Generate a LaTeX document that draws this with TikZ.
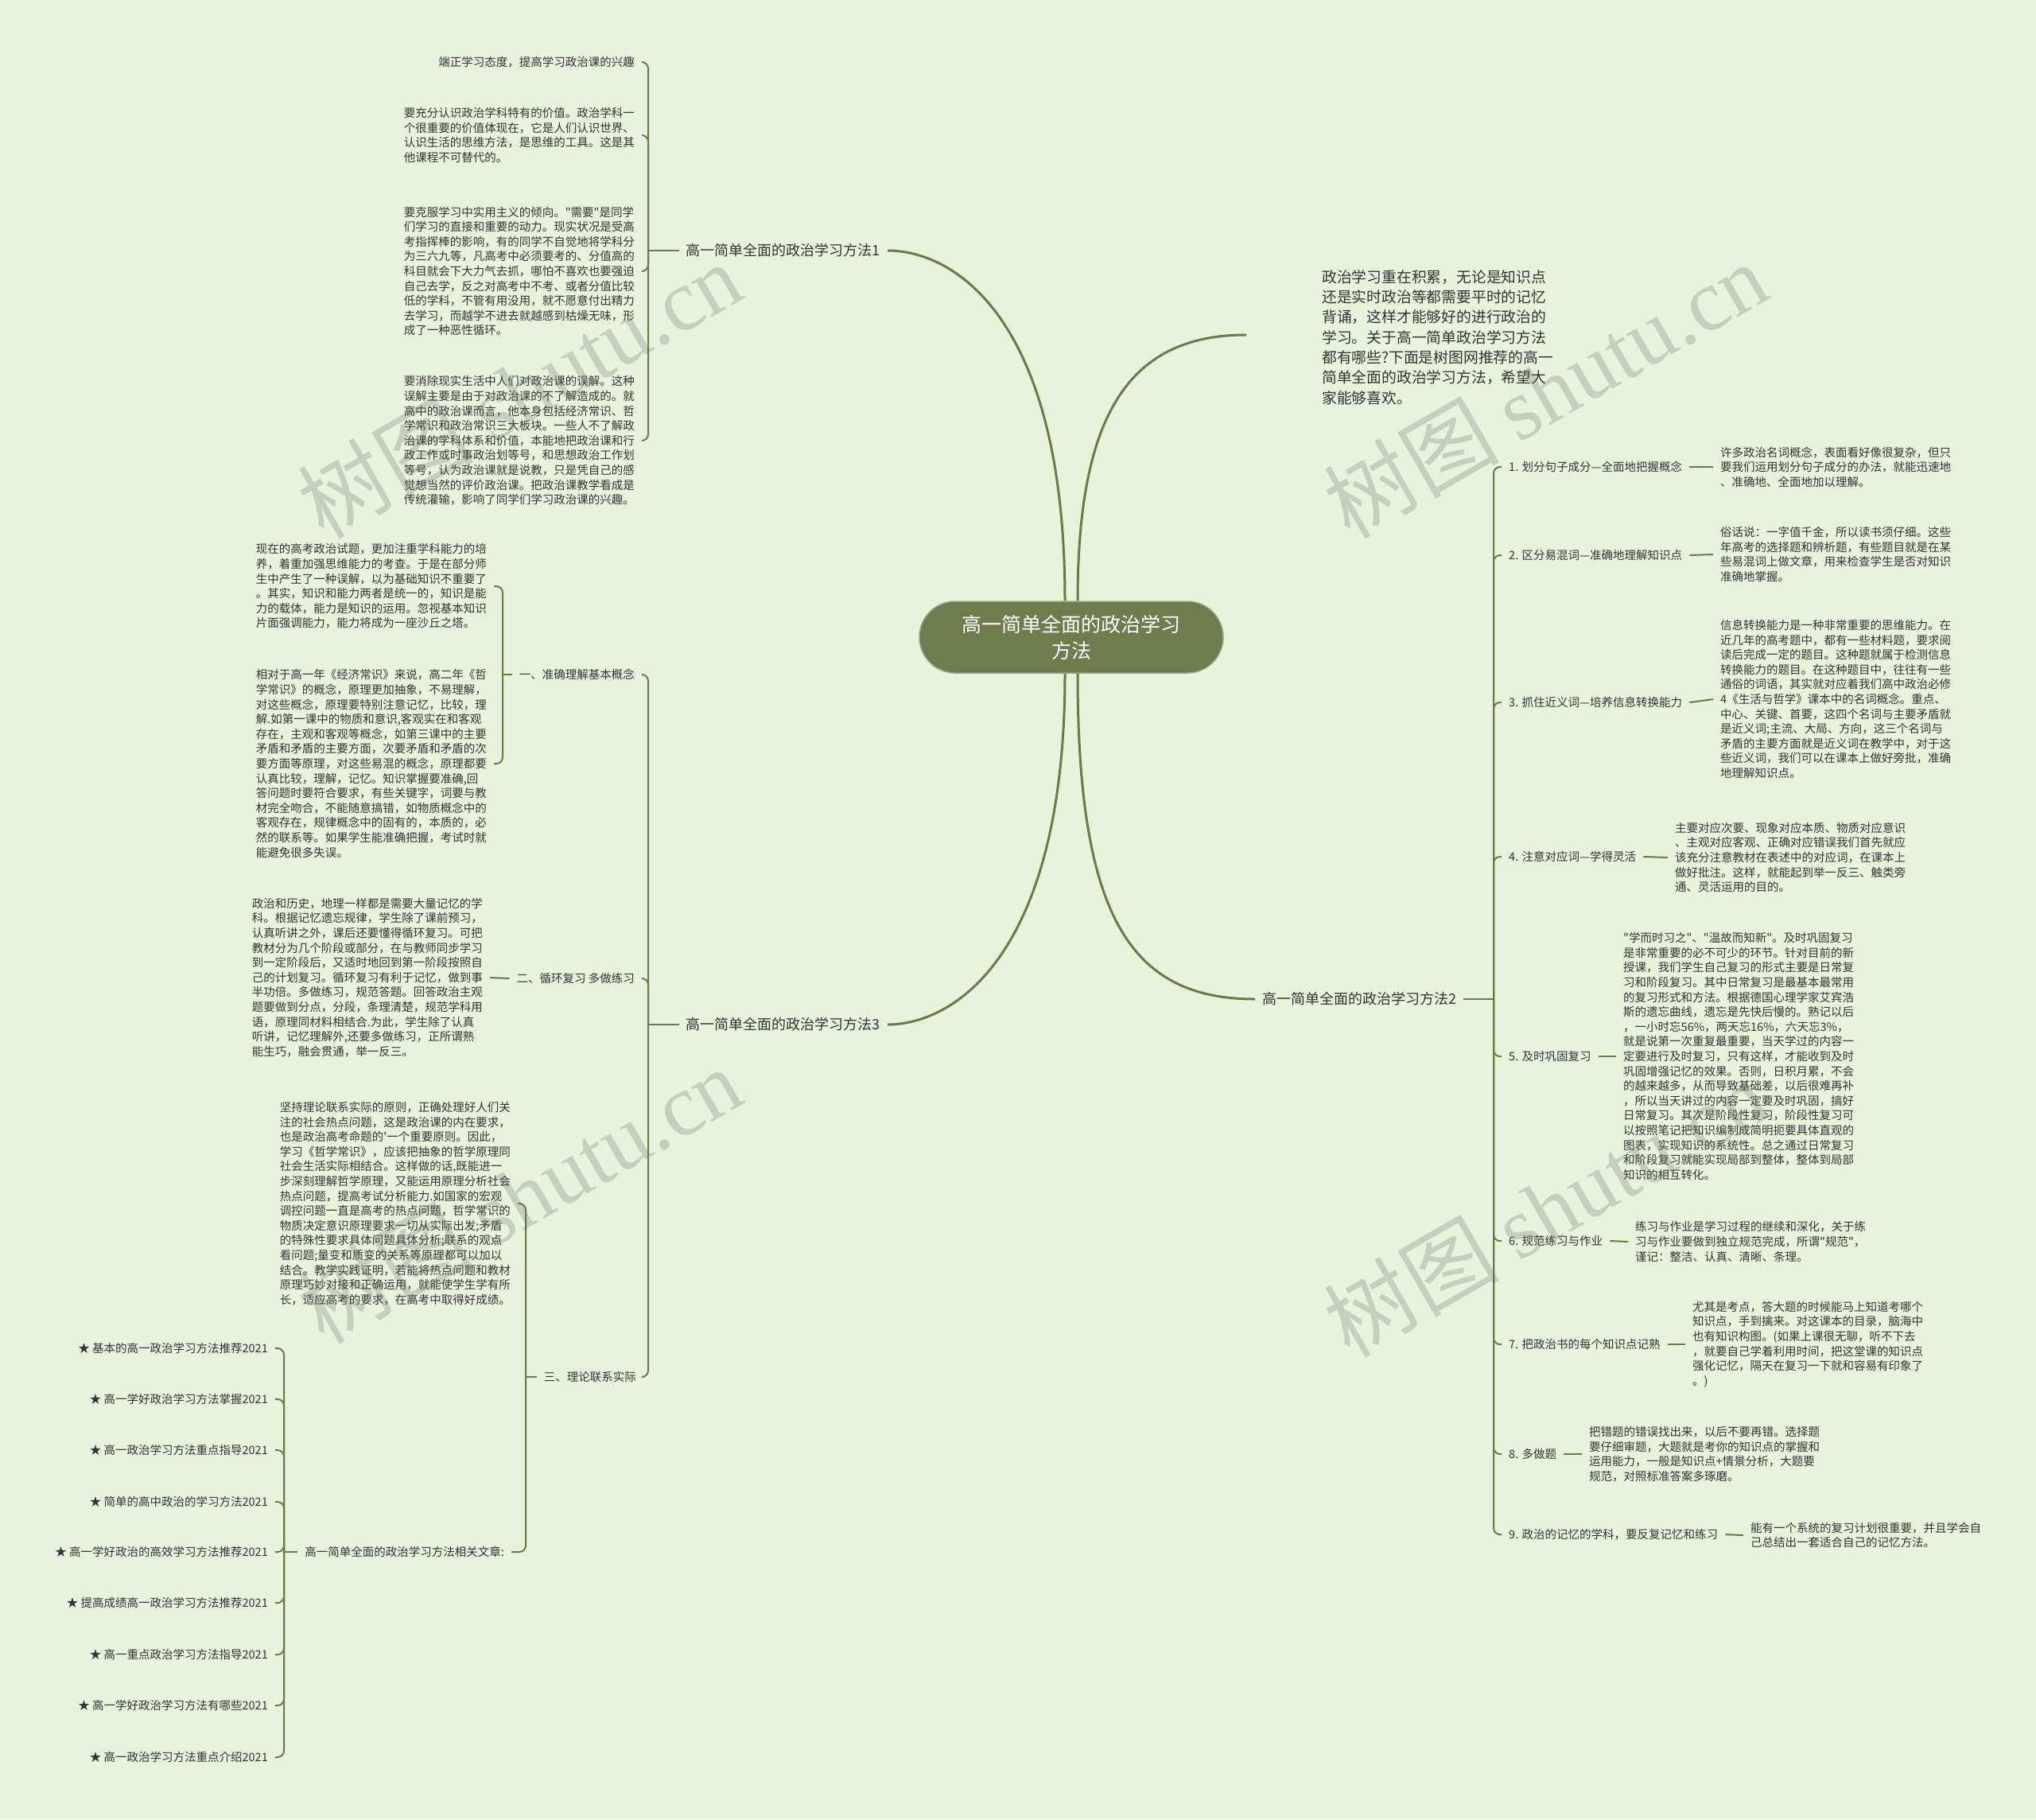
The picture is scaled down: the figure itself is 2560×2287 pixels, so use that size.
\documentclass[tikz,border=0pt]{standalone}
\usepackage{fontspec}
\setmainfont{Noto Sans CJK SC}[Ligatures=TeXOff]
\newfontfamily\wmlatin{Liberation Serif}
\usetikzlibrary{calc}
\definecolor{bgc}{HTML}{E7F3DB}
\definecolor{linec}{HTML}{6C7A47}
\definecolor{rootc}{HTML}{6F7C4E}
\definecolor{txtc}{HTML}{333333}
\begin{document}
\begin{tikzpicture}[x=1pt,y=-1pt,
  para/.style={font=\fontsize{14.5}{18.6}\selectfont, text=txtc, align=left, inner xsep=9pt, inner ysep=2pt},
  lab/.style={font=\fontsize{14.5}{18.6}\selectfont, text=txtc, inner xsep=9pt, inner ysep=2pt},
  blab/.style={font=\fontsize{18}{22}\selectfont, text=txtc, inner xsep=9pt, inner ysep=3pt},
  intro/.style={font=\fontsize{18.8}{25.3}\selectfont, text=txtc, align=left, inner xsep=0pt, inner ysep=2pt},
  conn/.style={draw=linec, line width=2pt},
  bconn/.style={conn, rounded corners=8pt},
  mconn/.style={draw=linec, line width=3pt},
  wm/.style={font=\fontsize{110}{110}\selectfont, text=black!60, opacity=0.25, rotate=30}
]
\useasboundingbox (0,0) rectangle (2560,2287);
\fill[bgc] (0,0) rectangle (2560,2287);

% root
\node[fill=rootc, draw=rootc!70!white, line width=1.5pt, rounded corners=45pt, minimum width=382pt, minimum height=90pt, text=white, align=center, font=\fontsize{25}{33}\selectfont] (root) at (1347,801) {高一简单全面的政治学习\\方法};

% ---------- branch 1 ----------
\node[blab, anchor=east] (b1) at (1116,315) {高一简单全面的政治学习方法1};
\coordinate (j1) at (815,315);
\node[lab, anchor=east] (b1c1) at (807,78) {端正学习态度，提高学习政治课的兴趣};
\node[para, anchor=east] (b1c2) at (807,170) {要充分认识政治学科特有的价值。政治学科一\\个很重要的价值体现在，它是人们认识世界、\\认识生活的思维方法，是思维的工具。这是其\\他课程不可替代的。};
\node[para, anchor=east] (b1c3) at (807,341) {要克服学习中实用主义的倾向。"需要"是同学\\们学习的直接和重要的动力。现实状况是受高\\考指挥棒的影响，有的同学不自觉地将学科分\\为三六九等，凡高考中必须要考的、分值高的\\科目就会下大力气去抓，哪怕不喜欢也要强迫\\自己去学，反之对高考中不考、或者分值比较\\低的学科，不管有用没用，就不愿意付出精力\\去学习，而越学不进去就越感到枯燥无味，形\\成了一种恶性循环。};
\node[para, anchor=east] (b1c4) at (807,554) {要消除现实生活中人们对政治课的误解。这种\\误解主要是由于对政治课的不了解造成的。就\\高中的政治课而言，他本身包括经济常识、哲\\学常识和政治常识三大板块。一些人不了解政\\治课的学科体系和价值，本能地把政治课和行\\政工作或时事政治划等号，和思想政治工作划\\等号，认为政治课就是说教，只是凭自己的感\\觉想当然的评价政治课。把政治课教学看成是\\传统灌输，影响了同学们学习政治课的兴趣。};
\draw[conn] (b1.west) -- (j1);
\foreach \c in {b1c1,b1c2,b1c3,b1c4} \draw[bconn] (j1) |- (\c.east);

% ---------- branch 3 ----------
\node[blab, anchor=east] (b3) at (1116,1288) {高一简单全面的政治学习方法3};
\coordinate (j3) at (815,1288);
\node[lab, anchor=east] (b3a) at (807,848) {一、准确理解基本概念};
\node[lab, anchor=east] (b3b) at (807,1230) {二、循环复习 多做练习};
\node[lab, anchor=east] (b3c) at (809,1731) {三、理论联系实际};
\draw[conn] (b3.west) -- (j3);
\foreach \c in {b3a,b3b,b3c} \draw[bconn] (j3) |- (\c.east);

% 一
\coordinate (j3a) at (632,848);
\node[para, anchor=east] (b3a1) at (621,737) {现在的高考政治试题，更加注重学科能力的培\\养，着重加强思维能力的考查。于是在部分师\\生中产生了一种误解，以为基础知识不重要了\\。其实，知识和能力两者是统一的，知识是能\\力的载体，能力是知识的运用。忽视基本知识\\片面强调能力，能力将成为一座沙丘之塔。};
\node[para, anchor=east] (b3a2) at (621,960) {相对于高一年《经济常识》来说，高二年《哲\\学常识》的概念，原理更加抽象，不易理解，\\对这些概念，原理要特别注意记忆，比较，理\\解.如第一课中的物质和意识,客观实在和客观\\存在，主观和客观等概念，如第三课中的主要\\矛盾和矛盾的主要方面，次要矛盾和矛盾的次\\要方面等原理，对这些易混的概念，原理都要\\认真比较，理解，记忆。知识掌握要准确,回\\答问题时要符合要求，有些关键字，词要与教\\材完全吻合，不能随意搞错，如物质概念中的\\客观存在，规律概念中的固有的，本质的，必\\然的联系等。如果学生能准确把握，考试时就\\能避免很多失误。};
\draw[conn] (b3a.west) -- (j3a);
\foreach \c in {b3a1,b3a2} \draw[bconn] (j3a) |- (\c.east);

% 二
\node[para, anchor=east] (b3b1) at (616,1229) {政治和历史，地理一样都是需要大量记忆的学\\科。根据记忆遗忘规律，学生除了课前预习，\\认真听讲之外，课后还要懂得循环复习。可把\\教材分为几个阶段或部分，在与教师同步学习\\到一定阶段后，又适时地回到第一阶段按照自\\己的计划复习。循环复习有利于记忆，做到事\\半功倍。多做练习，规范答题。回答政治主观\\题要做到分点，分段，条理清楚，规范学科用\\语，原理同材料相结合.为此，学生除了认真\\听讲，记忆理解外,还要多做练习，正所谓熟\\能生巧，融会贯通，举一反三。};
\draw[conn] (b3b1.east) -- (b3b.west);

% 三
\coordinate (j3c) at (661,1731);
\node[para, anchor=east] (b3c1) at (651,1513) {坚持理论联系实际的原则，正确处理好人们关\\注的社会热点问题，这是政治课的内在要求，\\也是政治高考命题的'一个重要原则。因此，\\学习《哲学常识》，应该把抽象的哲学原理同\\社会生活实际相结合。这样做的话,既能进一\\步深刻理解哲学原理，又能运用原理分析社会\\热点问题，提高考试分析能力.如国家的宏观\\调控问题一直是高考的热点问题，哲学常识的\\物质决定意识原理要求一切从实际出发;矛盾\\的特殊性要求具体问题具体分析;联系的观点\\看问题;量变和质变的关系等原理都可以加以\\结合。教学实践证明，若能将热点问题和教材\\原理巧妙对接和正确运用，就能使学生学有所\\长，适应高考的要求，在高考中取得好成绩。};
\node[lab, anchor=east] (b3c2) at (643,1951) {高一简单全面的政治学习方法相关文章:};
\draw[conn] (b3c.west) -- (j3c);
\foreach \c in {b3c1,b3c2} \draw[bconn] (j3c) |- (\c.east);

% related articles
\coordinate (j3d) at (357,1951);
\node[lab, anchor=east] (s1) at (346,1695) {★ 基本的高一政治学习方法推荐2021};
\node[lab, anchor=east] (s2) at (346,1759) {★ 高一学好政治学习方法掌握2021};
\node[lab, anchor=east] (s3) at (346,1823) {★ 高一政治学习方法重点指导2021};
\node[lab, anchor=east] (s4) at (346,1888) {★ 简单的高中政治的学习方法2021};
\node[lab, anchor=east] (s5) at (346,1951) {★ 高一学好政治的高效学习方法推荐2021};
\node[lab, anchor=east] (s6) at (346,2015) {★ 提高成绩高一政治学习方法推荐2021};
\node[lab, anchor=east] (s7) at (346,2080) {★ 高一重点政治学习方法指导2021};
\node[lab, anchor=east] (s8) at (346,2144) {★ 高一学好政治学习方法有哪些2021};
\node[lab, anchor=east] (s9) at (346,2209) {★ 高一政治学习方法重点介绍2021};
\draw[conn] (b3c2.west) -- (j3d);
\foreach \c in {s1,s2,s3,s4,s5,s6,s7,s8,s9} \draw[bconn] (j3d) |- (\c.east);

% ---------- intro ----------
\node[intro, anchor=west] (intro) at (1662,424) {政治学习重在积累，无论是知识点\\还是实时政治等都需要平时的记忆\\背诵，这样才能够好的进行政治的\\学习。关于高一简单政治学习方法\\都有哪些?下面是树图网推荐的高一\\简单全面的政治学习方法，希望大\\家能够喜欢。};

% ---------- branch 2 ----------
\node[blab, anchor=west] (b2) at (1578,1256) {高一简单全面的政治学习方法2};
\coordinate (j2) at (1878,1256);
\node[lab, anchor=west] (r1) at (1888,587) {1. 划分句子成分—全面地把握概念};
\node[lab, anchor=west] (r2) at (1888,698) {2. 区分易混词—准确地理解知识点};
\node[lab, anchor=west] (r3) at (1888,883) {3. 抓住近义词—培养信息转换能力};
\node[lab, anchor=west] (r4) at (1888,1077) {4. 注意对应词—学得灵活};
\node[lab, anchor=west] (r5) at (1888,1328) {5. 及时巩固复习};
\node[lab, anchor=west] (r6) at (1888,1560) {6. 规范练习与作业};
\node[lab, anchor=west] (r7) at (1888,1690) {7. 把政治书的每个知识点记熟};
\node[lab, anchor=west] (r8) at (1888,1828) {8. 多做题};
\node[lab, anchor=west] (r9) at (1888,1929) {9. 政治的记忆的学科，要反复记忆和练习};
\draw[conn] (b2.east) -- (j2);
\foreach \c in {r1,r2,r3,r4,r5,r6,r7,r8,r9} \draw[bconn] (j2) |- (\c.west);

\node[para, anchor=west] (r1p) at (2154,587) {许多政治名词概念，表面看好像很复杂，但只\\要我们运用划分句子成分的办法，就能迅速地\\、准确地、全面地加以理解。};
\node[para, anchor=west] (r2p) at (2154,697) {俗话说：一字值千金，所以读书须仔细。这些\\年高考的选择题和辨析题，有些题目就是在某\\些易混词上做文章，用来检查学生是否对知识\\准确地掌握。};
\node[para, anchor=west] (r3p) at (2154,879) {信息转换能力是一种非常重要的思维能力。在\\近几年的高考题中，都有一些材料题，要求阅\\读后完成一定的题目。这种题就属于检测信息\\转换能力的题目。在这种题目中，往往有一些\\通俗的词语，其实就对应着我们高中政治必修\\4《生活与哲学》课本中的名词概念。重点、\\中心、关键、首要，这四个名词与主要矛盾就\\是近义词;主流、大局、方向，这三个名词与\\矛盾的主要方面就是近义词在教学中，对于这\\些近义词，我们可以在课本上做好旁批，准确\\地理解知识点。};
\node[para, anchor=west] (r4p) at (2097,1078) {主要对应次要、现象对应本质、物质对应意识\\、主观对应客观、正确对应错误我们首先就应\\该充分注意教材在表述中的对应词，在课本上\\做好批注。这样，就能起到举一反三、触类旁\\通、灵活运用的目的。};
\node[para, anchor=west] (r5p) at (2032,1328) {"学而时习之"、"温故而知新"。及时巩固复习\\是非常重要的必不可少的环节。针对目前的新\\授课，我们学生自己复习的形式主要是日常复\\习和阶段复习。其中日常复习是最基本最常用\\的复习形式和方法。根据德国心理学家艾宾浩\\斯的遗忘曲线，遗忘是先快后慢的。熟记以后\\，一小时忘56\%，两天忘16\%，六天忘3\%，\\就是说第一次重复最重要，当天学过的内容一\\定要进行及时复习，只有这样，才能收到及时\\巩固增强记忆的效果。否则，日积月累，不会\\的越来越多，从而导致基础差，以后很难再补\\，所以当天讲过的内容一定要及时巩固，搞好\\日常复习。其次是阶段性复习，阶段性复习可\\以按照笔记把知识编制成简明扼要具体直观的\\图表，实现知识的系统性。总之通过日常复习\\和阶段复习就能实现局部到整体，整体到局部\\知识的相互转化。};
\node[para, anchor=west] (r6p) at (2047,1561) {练习与作业是学习过程的继续和深化，关于练\\习与作业要做到独立规范完成，所谓"规范"，\\谨记：整洁、认真、清晰、条理。};
\node[para, anchor=west] (r7p) at (2119,1690) {尤其是考点，答大题的时候能马上知道考哪个\\知识点，手到擒来。对这课本的目录，脑海中\\也有知识构图。(如果上课很无聊，听不下去\\，就要自己学着利用时间，把这堂课的知识点\\强化记忆，隔天在复习一下就和容易有印象了\\。)};
\node[para, anchor=west] (r8p) at (1989,1828) {把错题的错误找出来，以后不要再错。选择题\\要仔细审题，大题就是考你的知识点的掌握和\\运用能力，一般是知识点+情景分析，大题要\\规范，对照标准答案多琢磨。};
\node[para, anchor=west] (r9p) at (2192,1930) {能有一个系统的复习计划很重要，并且学会自\\己总结出一套适合自己的记忆方法。};
\foreach \i in {1,...,9} \draw[conn] (r\i.east) -- (r\i p.west);

% ---------- main curves ----------
\draw[mconn] ($(root.north)+(-8,0)$) .. controls (1339,400) and (1200,315) .. (b1.east);
\draw[mconn] ($(root.south)+(-8,0)$) .. controls (1339,1200) and (1200,1288) .. (b3.east);
\draw[mconn] ($(root.north)+(8,0)$) .. controls (1355,520) and (1420,421) .. ($(intro.west)+(-95,-3)$);
\draw[mconn] ($(root.south)+(8,0)$) .. controls (1355,1150) and (1420,1256) .. (b2.west);

% ---------- watermarks ----------
\node[wm] (wm1) at (653,490) {树图 {\wmlatin shutu.cn}};
\node[wm] (wm2) at (1943,490) {树图 {\wmlatin shutu.cn}};
\node[wm] (wm3) at (653,1502) {树图 {\wmlatin shutu.cn}};
\node[wm] (wm4) at (1943,1519) {树图 {\wmlatin shutu.cn}};
\end{tikzpicture}
\end{document}
